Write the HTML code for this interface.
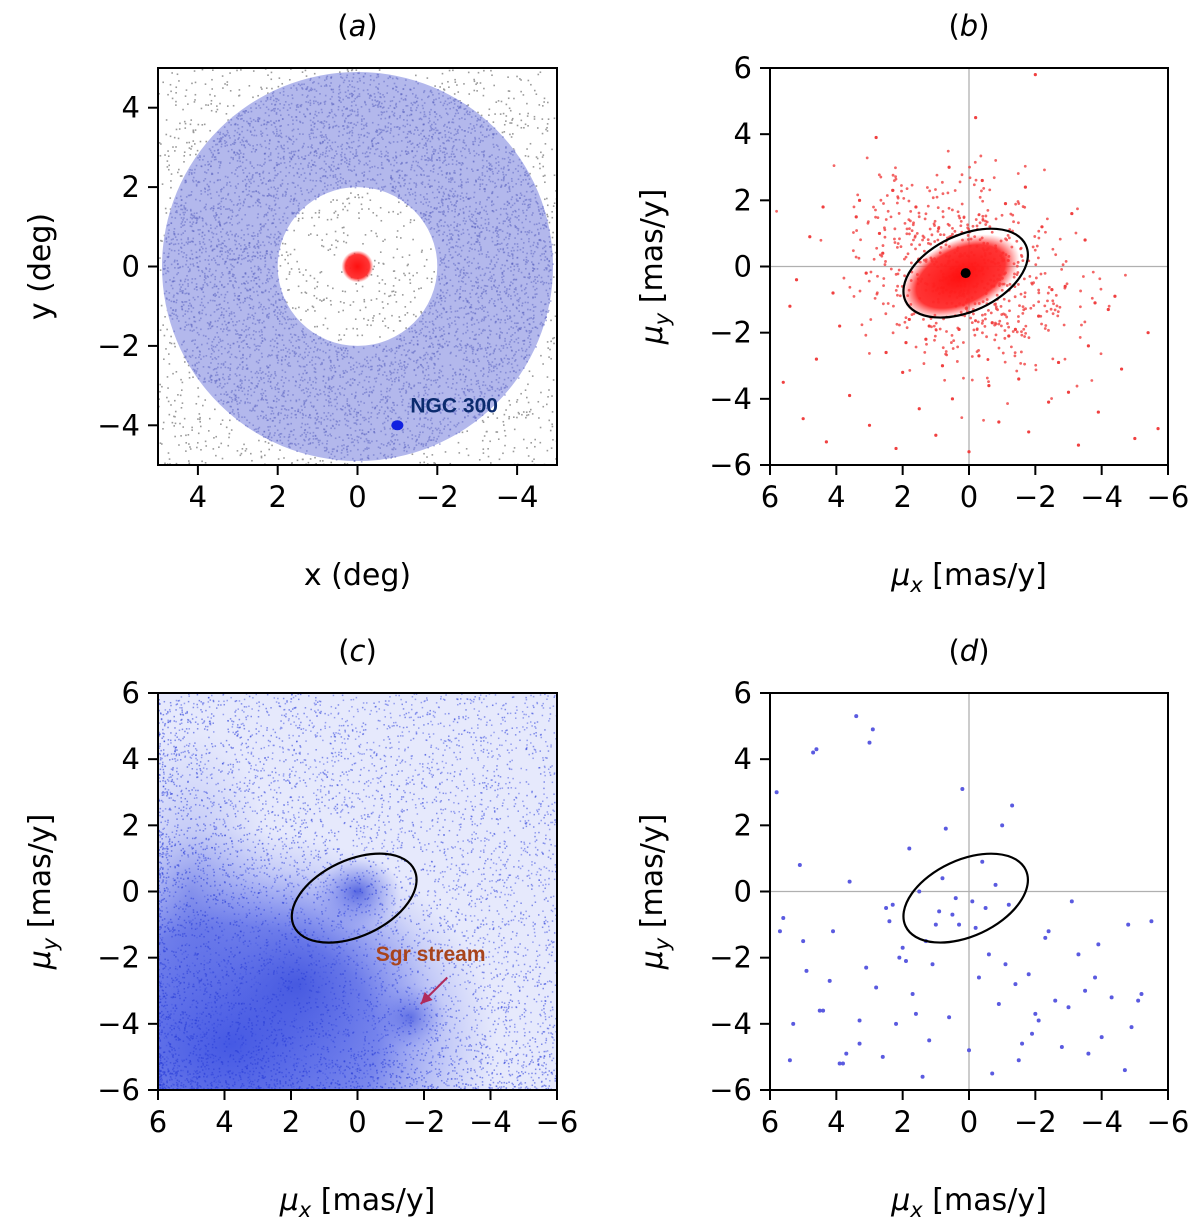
<!DOCTYPE html>
<html><head><meta charset="utf-8"><style>
html,body{margin:0;padding:0;background:#fff}
svg{display:block;font-family:"DejaVu Sans","Liberation Sans",sans-serif}
</style></head><body>
<svg id="fig" width="1200" height="1226" viewBox="0 0 1200 1226" xmlns="http://www.w3.org/2000/svg">
<defs>
<clipPath id="ca"><rect x="158" y="68" width="399" height="397"/></clipPath>
<clipPath id="cb"><rect x="770" y="68" width="398" height="397"/></clipPath>
<clipPath id="cc"><rect x="158" y="693" width="399" height="397"/></clipPath>
<clipPath id="cd"><rect x="770" y="693" width="398" height="397"/></clipPath>
<radialGradient id="gLL" cx="0.5" cy="0.5" r="0.5">
<stop offset="0" stop-color="#2f45e0" stop-opacity="0.9"/>
<stop offset="0.55" stop-color="#4a5de6" stop-opacity="0.7"/>
<stop offset="1" stop-color="#8c98f0" stop-opacity="0"/>
</radialGradient>
<radialGradient id="gC" cx="0.5" cy="0.5" r="0.5">
<stop offset="0" stop-color="#2a3fd8" stop-opacity="0.9"/>
<stop offset="1" stop-color="#6d7ced" stop-opacity="0"/>
</radialGradient>
<radialGradient id="gR" cx="0.5" cy="0.5" r="0.5">
<stop offset="0" stop-color="#ff1010" stop-opacity="1"/>
<stop offset="0.75" stop-color="#ff2a2a" stop-opacity="0.95"/>
<stop offset="1" stop-color="#ff5050" stop-opacity="0"/>
</radialGradient>
</defs>
<g id="root"></g>
</svg>
<script>
// ---- data ----
const panelTitles = ["a","b","c","d"];
const ticksA = [-4,-2,0,2,4];
const ticksPM = [-6,-4,-2,0,2,4,6];
const annulusInner = 2.0, annulusOuter = 4.9;
const lmcCenter = [0,0];
const ngc300 = [-1,-4];
const ellipseCenter = [0.1,-0.2];
const ellipseAxes = [2.0,1.15];
const ellipseAngleDeg = 25;
const meanPM = [0.1,-0.2];
const sgrLabelPos = [-2.2,-2.1];
const sgrArrowTip = [-1.9,-3.4];
// outliers for panel b (mu_x, mu_y)
const bX = [5.6,5.4,5.0,4.6,4.3,3.9,3.6,3.3,3.0,2.7,2.5,2.2,2.0,1.8,1.5,1.3,1.0,0.8,0.5,0.3,0.0,-0.3,-0.6,-0.9,-1.2,-1.5,-1.8,-2.1,-2.4,-2.7,-3.0,-3.3,-3.6,-3.9,-4.2,-4.6,-5.0,-5.4,-5.7,4.8,4.1,3.4,2.8,2.3,1.6,-0.4,-1.1,-1.7,-2.2,-2.9,-3.5,-4.4,5.2,3.1,1.2,-0.7,-2.5,-3.8,2.6,-1.4,0.6,-3.1,4.4,-0.2,1.9,-2.0];
const bY = [-3.5,-1.2,-4.6,-2.8,-5.3,-1.8,-3.9,2.0,-4.8,1.0,-2.6,-5.5,-3.2,-1.6,-4.3,-2.2,-5.1,-3.0,-4.0,-1.9,-5.6,-2.7,-3.6,-4.7,-2.1,-3.4,-5.0,-1.5,-4.1,-2.9,-3.8,-5.4,-2.4,-4.4,-1.3,-3.1,-5.2,-2.0,-4.9,0.9,-0.8,1.5,3.9,2.3,1.8,2.6,1.9,2.4,1.2,-0.6,0.8,-0.9,-0.4,-0.2,-1.8,-1.7,-0.7,-1.1,0.4,-1.9,3.0,1.6,1.8,4.5,-2.3,5.8];
// sparse points panel d
const dX = [5.8,5.6,5.4,5.1,4.9,4.6,4.4,4.1,3.9,3.6,3.3,3.0,2.8,2.5,2.2,2.0,1.7,1.4,1.1,0.9,0.6,0.3,0.0,-0.3,-0.6,-0.9,-1.2,-1.5,-1.8,-2.1,-2.4,-2.8,-3.1,-3.5,-3.9,-4.3,-4.7,-5.1,-5.5,5.0,4.2,3.3,2.9,2.4,1.9,1.3,0.8,0.4,-0.2,-0.8,-1.4,-1.9,-2.6,-3.3,-4.0,-4.8,5.3,4.5,3.7,3.1,2.6,1.6,1.0,0.5,-0.5,-1.1,-1.6,-2.3,-3.0,-3.8,-5.2,3.4,2.1,0.2,-0.4,-1.0,0.7,1.5,-1.3,-0.1,4.7,3.8,2.3,1.2,-0.7,-2.0,-3.6,-4.9,5.7,1.8];
const dY = [3.0,-0.8,-5.1,0.8,-2.4,4.3,-3.6,-1.2,-5.2,0.3,-4.6,4.5,-2.9,-0.5,-4.0,-1.7,-3.1,-5.6,-2.2,-0.6,-3.8,-1.0,-4.8,-2.6,-1.9,-3.4,-0.4,-5.1,-2.5,-3.9,-1.2,-4.7,-0.3,-3.0,-1.6,-3.2,-5.4,-3.3,-0.9,-1.5,-2.7,-3.9,4.9,-0.9,-2.1,-1.5,0.4,-0.2,-1.1,0.2,-2.8,-4.3,-3.3,-1.9,-4.4,-1.0,-4.0,-3.6,-4.9,-2.3,-5.0,-3.7,-1.0,-0.7,-0.5,-2.2,-4.6,-1.4,-3.5,-2.6,-3.1,5.3,-2.0,3.1,0.9,2.0,1.9,0.0,2.6,-0.3,4.2,-5.2,-0.4,-4.5,-5.5,-3.7,-4.9,-4.1,-1.2,1.3];

// ---- helpers ----
const NS="http://www.w3.org/2000/svg";
const root=document.getElementById('root');
function mk(tag,attrs,parent,text){const e=document.createElementNS(NS,tag);for(const k in attrs)e.setAttribute(k,attrs[k]);if(text!==undefined)e.textContent=text;(parent||root).appendChild(e);return e;}
function lin(d0,d1,r0,r1){return v=>r0+(v-d0)*(r1-r0)/(d1-d0);}
function fmt(v){return v<0?"\u2212"+(-v):String(v);}
// LCG texture (not data)
let seed=12345;function rnd(){seed=(seed*1103515245+12345)%2147483648;return seed/2147483648;}
function gauss(){return Math.sqrt(-2*Math.log(rnd()+1e-9))*Math.cos(2*Math.PI*rnd());}

const panels=[
 {key:"a",x0:158,x1:557,y0:68,y1:465,dom:[5,-5],ticks:ticksA,xl:"x (deg)",yl:"y (deg)",clip:"ca"},
 {key:"b",x0:770,x1:1168,y0:68,y1:465,dom:[6,-6],ticks:ticksPM,xl:"mu",yl:"mu",clip:"cb"},
 {key:"c",x0:158,x1:557,y0:693,y1:1090,dom:[6,-6],ticks:ticksPM,xl:"mu",yl:"mu",clip:"cc"},
 {key:"d",x0:770,x1:1168,y0:693,y1:1090,dom:[6,-6],ticks:ticksPM,xl:"mu",yl:"mu",clip:"cd"}
];

panels.forEach((p,i)=>{
 const g=mk('g',{});
 
 
 const X=lin(p.dom[0],p.dom[1],p.x0,p.x1), Y=lin(-p.dom[0],-p.dom[1],p.y1,p.y0);
 const sx=Math.abs(X(1)-X(0)), sy=Math.abs(Y(1)-Y(0));
 const plot=mk('g',{'clip-path':'url(#'+p.clip+')'},g);
 
 
 if(p.key==="a"){
  for(let k=0;k<2200;k++){const x=-5+10*rnd(),y=-5+10*rnd();const r=Math.hypot(x,y);if(r>annulusInner&&r<annulusOuter)continue;
   mk('rect',{x:X(x),y:Y(y),width:1.6,height:1.6,fill:'#9a9a9a'},plot);}
  const ann=mk('path',{d:`M${X(0)-annulusOuter*sx},${Y(0)} a${annulusOuter*sx},${annulusOuter*sy} 0 1,0 ${2*annulusOuter*sx},0 a${annulusOuter*sx},${annulusOuter*sy} 0 1,0 ${-2*annulusOuter*sx},0 Z M${X(0)-annulusInner*sx},${Y(0)} a${annulusInner*sx},${annulusInner*sy} 0 1,1 ${2*annulusInner*sx},0 a${annulusInner*sx},${annulusInner*sy} 0 1,1 ${-2*annulusInner*sx},0 Z`,fill:'#b3b8ec','fill-rule':'evenodd'},plot);
  
  
  for(let k=0;k<6000;k++){const a=2*Math.PI*rnd(),r=Math.sqrt(annulusInner**2+(annulusOuter**2-annulusInner**2)*rnd());
   mk('rect',{x:X(r*Math.cos(a)),y:Y(r*Math.sin(a)),width:1.6,height:1.6,fill:'#5a62c0',opacity:0.5},plot);}
  const lmc=mk('circle',{cx:X(lmcCenter[0]),cy:Y(lmcCenter[1]),r:16,fill:'url(#gR)'},plot);
  
  
  const ng=mk('ellipse',{cx:X(ngc300[0]),cy:Y(ngc300[1]),rx:6,ry:5,fill:'#1020e0'},plot);
  
  
  const nl=mk('text',{x:X(ngc300[0])+13,y:Y(ngc300[1])-13,'font-size':21,'font-weight':'bold',fill:'#0b2b6e','font-family':'Liberation Sans, sans-serif'},plot,"NGC 300");
  
  
 } else {
  const h=mk('line',{x1:p.x0,x2:p.x1,y1:Y(0),y2:Y(0),stroke:'#b0b0b0','stroke-width':1.3},plot);
  
  
  const v=mk('line',{x1:X(0),x2:X(0),y1:p.y0,y2:p.y1,stroke:'#b0b0b0','stroke-width':1.3},plot);
  
  
 }
 if(p.key==="b"){
  for(let k=0;k<bX.length;k++){const c=mk('circle',{cx:X(bX[k]),cy:Y(bY[k]),r:1.6,fill:'#f04040'},plot);
   
   }
  for(let k=0;k<700;k++){const u=gauss()*1.6,w=gauss()*1.3;mk('circle',{cx:X(ellipseCenter[0]+u*1.0),cy:Y(ellipseCenter[1]+w*1.0+u*0.25),r:1.4,fill:'#f04040',opacity:0.8},plot);}
  const blob=mk('ellipse',{cx:X(ellipseCenter[0]+0.15),cy:Y(ellipseCenter[1]-0.1),rx:ellipseAxes[0]*sx*0.95,ry:ellipseAxes[1]*sy*0.95,fill:'url(#gR)',transform:`rotate(${-ellipseAngleDeg} ${X(ellipseCenter[0]+0.15)} ${Y(ellipseCenter[1]-0.1)})`},plot);
  
  
 }
 if(p.key==="c"){
  mk('rect',{x:p.x0,y:p.y0,width:p.x1-p.x0,height:p.y1-p.y0,fill:'#e6e9fc'},plot);
  for(let k=0;k<3000;k++){mk('rect',{x:p.x0+(p.x1-p.x0)*rnd(),y:p.y0+(p.y1-p.y0)*rnd(),width:1.5,height:1.5,fill:'#5b6be6',opacity:0.6},plot);}
  const d1=mk('ellipse',{cx:X(3.8),cy:Y(-4.6),rx:8*sx,ry:6.5*sy,fill:'url(#gLL)'},plot);
  
  
  mk('ellipse',{cx:X(1.8),cy:Y(-2.8),rx:4*sx,ry:3.5*sy,fill:'url(#gC)',opacity:0.6},plot);
  mk('ellipse',{cx:X(5),cy:Y(0),rx:2.5*sx,ry:5*sy,fill:'url(#gC)',opacity:0.35},plot);
  const d2=mk('ellipse',{cx:X(0),cy:Y(0),rx:1.3*sx,ry:1.1*sy,fill:'url(#gC)',opacity:0.8},plot);
  
  
  const d3=mk('ellipse',{cx:X(-1.6),cy:Y(-3.8),rx:1.1*sx,ry:1.0*sy,fill:'url(#gC)',opacity:0.6},plot);
  
  
  for(let k=0;k<4000;k++){const x=6-12*Math.pow(rnd(),1.5),y=-6+12*Math.pow(rnd(),1.6);mk('rect',{x:X(x),y:Y(y),width:1.5,height:1.5,fill:'#2a3ed8',opacity:0.55},plot);}
  const sl=mk('text',{x:X(sgrLabelPos[0]),y:Y(sgrLabelPos[1]),'font-size':21,'font-weight':'bold',fill:'#a8441c','text-anchor':'middle','font-family':'Liberation Sans, sans-serif'},plot,"Sgr stream");
  
  
  const ar=mk('line',{x1:X(-2.7),y1:Y(-2.6),x2:X(sgrArrowTip[0]),y2:Y(sgrArrowTip[1]),stroke:'#b02a5a','stroke-width':2},plot);
  
  
  const tx=X(sgrArrowTip[0]),ty=Y(sgrArrowTip[1]);
  mk('polygon',{points:`${tx},${ty} ${tx+4},${ty-12} ${tx+12},${ty-4}`,fill:'#b02a5a'},plot);
 }
 if(p.key==="d"){
  for(let k=0;k<dX.length;k++){const c=mk('circle',{cx:X(dX[k]),cy:Y(dY[k]),r:2,fill:'#5a5ae0'},plot);
   
   }
 }
 if(p.key!=="a"){
  const cx=X(ellipseCenter[0]),cy=Y(ellipseCenter[1]);
  const e=mk('ellipse',{cx:cx,cy:cy,rx:ellipseAxes[0]*sx,ry:ellipseAxes[1]*sy,fill:'none',stroke:'#000','stroke-width':2.2,transform:`rotate(${-ellipseAngleDeg} ${cx} ${cy})`},g);
  
  
 }
 if(p.key==="b"){
  const m=mk('circle',{cx:X(meanPM[0]),cy:Y(meanPM[1]),r:5,fill:'#000'},g);
  
  
 }
 const f=mk('rect',{x:p.x0,y:p.y0,width:p.x1-p.x0,height:p.y1-p.y0,fill:'none',stroke:'#000','stroke-width':2},g);
 
 
 p.ticks.forEach(t=>{
  const tx=X(t);
  mk('line',{x1:tx,x2:tx,y1:p.y1,y2:p.y1+10,stroke:'#000','stroke-width':2},g);
  const xl=mk('text',{x:tx,y:p.y1+42,'font-size':29,'text-anchor':'middle'},g,fmt(t));
  
  
  const ty=Y(t);
  mk('line',{x1:p.x0-10,x2:p.x0,y1:ty,y2:ty,stroke:'#000','stroke-width':2},g);
  const yl=mk('text',{x:p.x0-18,y:ty+10,'font-size':29,'text-anchor':'end'},g,fmt(t));
  
  
 });
 const mid=(p.x0+p.x1)/2;
 const tt=mk('text',{x:mid,y:p.y0-32,'font-size':29,'text-anchor':'middle'},g);
 
 
 mk('tspan',{},tt,"(");mk('tspan',{'font-style':'italic'},tt,p.key);mk('tspan',{},tt,")");
 const xt=mk('text',{x:mid,y:p.y1+120,'font-size':30,'text-anchor':'middle'},g);
 
 
 const ly=(p.y0+p.y1)/2, lx=p.key==="a"||p.key==="c"?50:662;
 const yt=mk('text',{x:lx,y:ly,'font-size':30,'text-anchor':'middle',transform:`rotate(-90 ${lx} ${ly})`},g);
 
 
 if(p.key==="a"){xt.textContent=p.xl;yt.textContent=p.yl;}
 else{
  mk('tspan',{'font-style':'italic'},xt,"\u03bc");mk('tspan',{'font-style':'italic','font-size':21,dy:7},xt,"x");mk('tspan',{dy:-7},xt," [mas/y]");
  mk('tspan',{'font-style':'italic'},yt,"\u03bc");mk('tspan',{'font-style':'italic','font-size':21,dy:7},yt,"y");mk('tspan',{dy:-7},yt," [mas/y]");
 }
});
</script>
</body></html>
